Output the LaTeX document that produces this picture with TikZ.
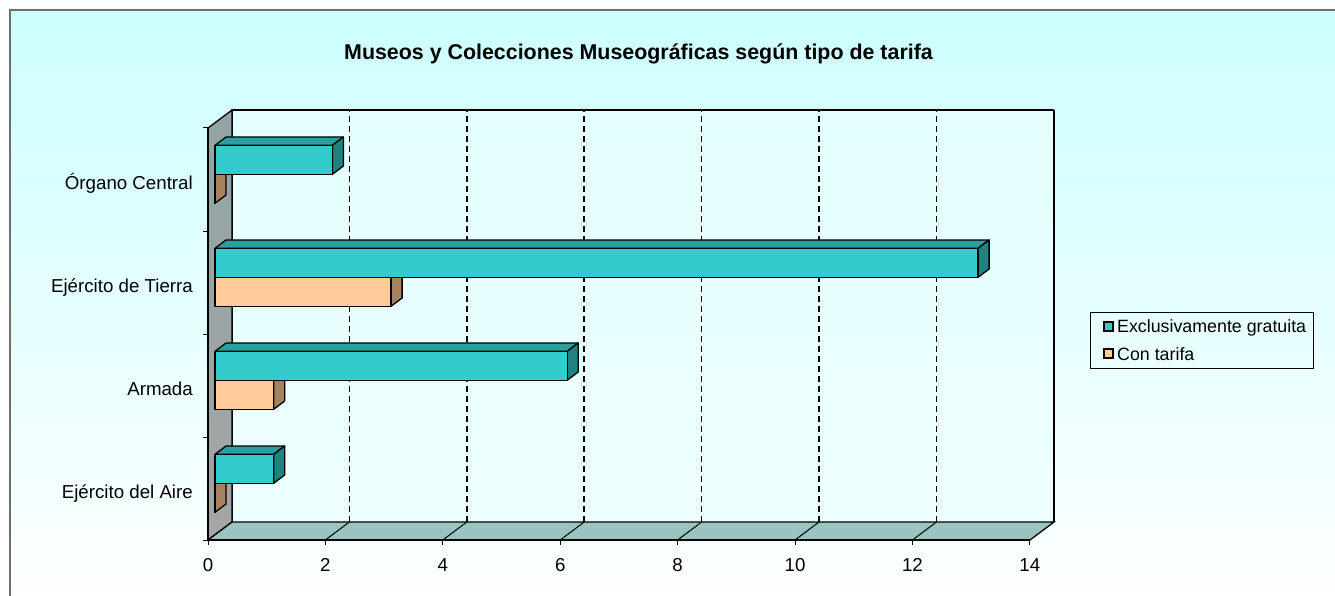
\documentclass[tikz,border=0pt]{standalone}
\usepackage{fontspec}
\setmainfont{Liberation Sans}
\usetikzlibrary{calc}

\definecolor{fondo}{RGB}{204,255,255}
\definecolor{marco}{RGB}{110,110,110}
\definecolor{pared}{RGB}{228,255,255}
\definecolor{paredb}{RGB}{238,255,255}
\definecolor{paredizq}{RGB}{145,165,165}
\definecolor{paredizqb}{RGB}{165,165,165}
\definecolor{suelo}{RGB}{153,196,192}
\definecolor{cian}{RGB}{51,204,204}
\definecolor{cianarriba}{RGB}{40,160,160}
\definecolor{cianlado}{RGB}{30,130,128}
\definecolor{naranja}{RGB}{255,204,153}
\definecolor{naranjalado}{RGB}{166,130,95}

\tikzset{
  etiqueta/.style={font=\fontsize{18.7}{21}\selectfont, inner sep=0pt},
  leyenda/.style={font=\fontsize{17.8}{20}\selectfont, inner sep=0pt, anchor=base west},
  rejilla/.style={line width=1.6, dash pattern=on 6pt off 4pt},
  borde/.style={line width=1.3, line join=round}
}

% barra 3D: frente, arriba, lado, largo, y arriba, y abajo
\newcommand{\barra}[6]{%
  \filldraw [borde, fill=#2] (215,#5) -- (215+#4,#5) -- (226+#4,#5-8.3) -- (226,#5-8.3) -- cycle;
  \filldraw [borde, fill=#3] (215+#4,#5) -- (215+#4,#6) -- (226+#4,#6-8.3) -- (226+#4,#5-8.3) -- cycle;
  \filldraw [borde, fill=#1] (215,#5) rectangle (215+#4,#6);
}

\begin{document}
\begin{tikzpicture}[x=1pt,y=-1pt]
  \useasboundingbox (0,0) rectangle (1335,596);
  \clip (0,0) rectangle (1335,596);
  \shade [top color=fondo, bottom color=white] (10,10) rectangle (1345,606);
  \draw [marco, line width=2] (10,606) -- (10,10) -- (1345,10);

  % paredes y suelo
  \shade [top color=pared, bottom color=paredb] (232,110) rectangle (1054,522);
  \draw [line width=1.4] (232,522) -- (232,110) -- (1054,110);
  \draw [line width=2.4] (1054,110) -- (1054,522);
  \shadedraw [top color=paredizq, bottom color=paredizqb, line width=1.3] (208,128) -- (232,110) -- (232,522) -- (208,540) -- cycle;
  \filldraw [fill=suelo, line width=1.3] (208,540) -- (232,522) -- (1054,522) -- (1030,540) -- cycle;

  \foreach \k in {1,...,6} {
    \draw [line width=1] (208+117.4*\k,540) -- (232+117.4*\k,522);
    \draw [rejilla] (232+117.4*\k,522) -- (232+117.4*\k,110);
  }

  % barras
  \foreach \i/\vg/\vt in {0/2/0,1/13/3,2/6/1,3/1/0} {
    \pgfmathsetmacro\yA{145.3+103*\i}
    \pgfmathsetmacro\yB{\yA+29}
    \pgfmathsetmacro\yC{\yA+58}
    \pgfmathsetmacro\lg{58.7*\vg}
    \pgfmathsetmacro\lt{58.7*\vt}
    \barra{naranja}{naranja}{naranjalado}{\lt}{\yB}{\yC}
    \barra{cian}{cianarriba}{cianlado}{\lg}{\yA}{\yB}
  }

  % ejes
  \draw [line width=2.4] (208,128) -- (208,540) -- (1030,540);
  \foreach \k in {0,...,4}
    \draw [line width=1] (203,128+103*\k) -- (208,128+103*\k);
  \foreach \k in {0,...,7} {
    \pgfmathtruncatemacro\val{2*\k}
    \draw [line width=1] (208+117.4*\k,540) -- (208+117.4*\k,545);
    \node [etiqueta, anchor=base] (x\k) at (208+117.4*\k,571) {\val};
  }
  \foreach \i/\nombre in {0/Órgano Central,1/Ejército de Tierra,2/Armada,3/Ejército del Aire}
    \node [etiqueta, anchor=base east] (cat\i) at (193,189.5+103*\i) {\nombre};

  \node [font=\bfseries\fontsize{21.4}{24}\selectfont, anchor=base] (titulo) at (638.5,60) {Museos y Colecciones Museográficas según tipo de tarifa};

  % leyenda
  \draw [line width=1] (1090,312) rectangle (1313,368);
  \filldraw [fill=cian, line width=1.6] (1104,322) rectangle (1113,331);
  \filldraw [fill=naranja, line width=1.6] (1104,349) rectangle (1113,358);
  \node [leyenda] (gratuita) at (1117,332) {Exclusivamente gratuita};
  \node [leyenda] (tarifa) at (1117,360) {Con tarifa};
\end{tikzpicture}
\end{document}
